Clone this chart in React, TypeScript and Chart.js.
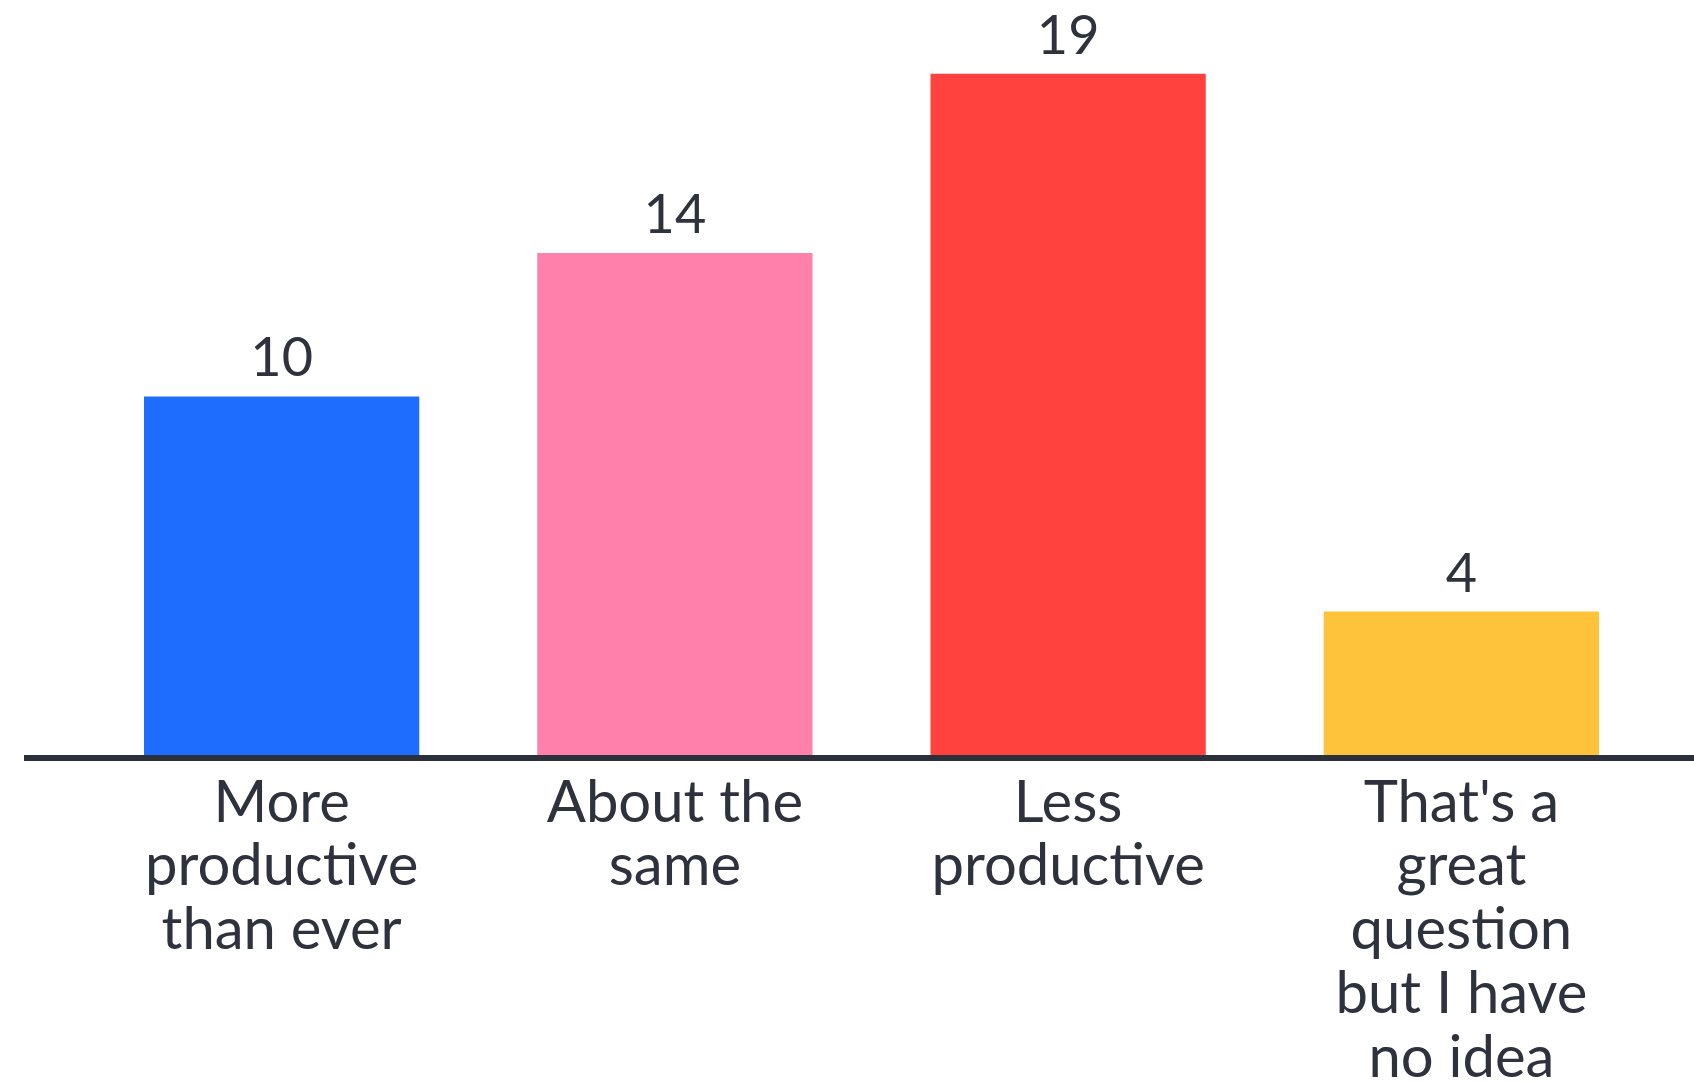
import React, { useEffect, useRef } from "react";
import { Chart, registerables } from "chart.js";

Chart.register(...registerables);

const categories: string[][] = [
  ["More", "productive", "than ever"],
  ["About the", "same"],
  ["Less", "productive"],
  ["That's a", "great", "question", "but I have", "no idea"],
];
const values: number[] = [10, 14, 19, 4];
const barColors: string[] = ["#1f6dff", "#ff80ab", "#ff423d", "#ffc33b"];

const TEXT = "#2d323c";
const FONT = "Lato, 'Noto Sans', sans-serif";

const valueLabels = {
  id: "valueLabels",
  afterDatasetsDraw(chart: any) {
    const ctx = chart.ctx;
    const meta = chart.getDatasetMeta(0);
    ctx.save();
    ctx.fillStyle = TEXT;
    ctx.font = `400 54px ${FONT}`;
    ctx.textAlign = "center";
    ctx.textBaseline = "alphabetic";
    meta.data.forEach((bar: any, i: number) => {
      ctx.fillText(String(values[i]), bar.x, bar.y - 20);
    });
    ctx.restore();
  },
};

const baseLine = {
  id: "baseLine",
  afterDatasetsDraw(chart: any) {
    const ctx = chart.ctx;
    const y = chart.scales.y.getPixelForValue(0);
    ctx.save();
    ctx.strokeStyle = "#2b303b";
    ctx.lineWidth = 6;
    ctx.beginPath();
    ctx.moveTo(24, y + 3);
    ctx.lineTo(chart.width, y + 3);
    ctx.stroke();
    ctx.restore();
  },
};

export default function App() {
  const ref = useRef<HTMLCanvasElement | null>(null);
  useEffect(() => {
    if (!ref.current) return;
    const chart = new Chart(ref.current, {
      type: "bar",
      data: {
        labels: categories,
        datasets: [
          {
            data: values,
            backgroundColor: barColors,
            borderWidth: 0,
            barPercentage: 0.7,
            categoryPercentage: 1,
          },
        ],
      },
      options: {
        animation: false,
        responsive: false,
        maintainAspectRatio: false,
        layout: { padding: { left: 85, right: 36, top: 2, bottom: -24 } },
        plugins: { legend: { display: false }, tooltip: { enabled: false } },
        scales: {
          x: {
            grid: { display: false, drawTicks: false },
            border: { display: false },
            ticks: {
              color: TEXT,
              font: { family: FONT, size: 58, lineHeight: 1.1 },
              padding: 16,
              maxRotation: 0,
              autoSkip: false,
            },
          },
          y: {
            display: false,
            min: 0,
            max: 21,
          },
        },
      },
      plugins: [valueLabels, baseLine],
    });
    return () => chart.destroy();
  }, []);
  return (
    <div style={{ position: "fixed", left: 0, top: 0, width: 1694, height: 1082, background: "#fff" }}>
      <canvas ref={ref} width={1694} height={1082} style={{ width: 1694, height: 1082 }} />
    </div>
  );
}
